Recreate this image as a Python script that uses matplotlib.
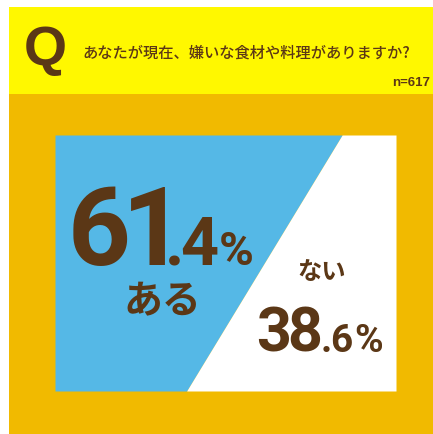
import matplotlib
matplotlib.use("Agg")
import matplotlib.pyplot as plt
from matplotlib.patches import Rectangle
from matplotlib.textpath import TextPath
from matplotlib.font_manager import FontProperties

# ---- data ----
categories = ["ある", "ない"]
values = [61.4, 38.6]
value_int = ["61", "38"]
value_dec = [".4", ".6"]
question = "あなたが現在、嫌いな食材や料理がありますか?"
sample = "n=617"

# ---- style ----
YELLOW = "#FFF800"
ORANGE = "#F1BA00"
BLUE = "#55B8E6"
WHITE = "#FFFFFF"
BROWN = "#5B3716"
JP = ["Noto Sans CJK JP", "DejaVu Sans"]
NUM = "Roboto"
DPI = 100

W, H = 433, 434
fig = plt.figure(figsize=(W / 100, H / 100), dpi=DPI)
bg = fig.add_axes([0, 0, 1, 1])
bg.set_xlim(0, W)
bg.set_ylim(H, 0)
bg.axis("off")

bg.add_patch(Rectangle((9, 7), W - 9, 87, color=YELLOW, lw=0))
bg.add_patch(Rectangle((9, 94), W - 9, H - 94, color=ORANGE, lw=0))

# ---- inner box: area split proportional to the values ----
x0, x1, y0, y1 = 55, 396, 135, 391
ax = fig.add_axes([x0 / W, 1 - y1 / H, (x1 - x0) / W, (y1 - y0) / H])
ax.set_xlim(0, 1)
ax.set_ylim(0, 1)
ax.axis("off")
frac = values[0] / sum(values)
slant = 0.456
ys = [0, 1]
xs = [frac - slant / 2, frac + slant / 2]
ax.fill_betweenx(ys, [0, 0], xs, color=BLUE, lw=0)
ax.fill_betweenx(ys, xs, [1, 1], color=WHITE, lw=0)

# ---- overlay for all texts ----
ov = fig.add_axes([0, 0, 1, 1])
ov.set_xlim(0, W)
ov.set_ylim(H, 0)
ov.axis("off")
ov.patch.set_alpha(0)

fp = FontProperties(family=NUM, weight="bold")


def place(pieces, x, y):
    """pieces: list of (string, fontsize, gap_before, gap_inner).
    Characters are packed by their ink boxes."""
    k = DPI / 72.0
    for s, size, gap, gin in pieces:
        for i, ch in enumerate(s):
            x += gap if i == 0 else gin
            e = TextPath((0, 0), ch, size=size, prop=fp).get_extents()
            ov.text(x - e.x0 * k, y, ch, fontsize=size, fontweight="bold",
                    family=NUM, color=BROWN, ha="left", va="baseline")
            x += e.width * k


ov.text(45, 51, "Q", fontsize=40, fontweight="bold", family="Liberation Sans",
        color=BROWN, ha="center", va="center")
ov.text(82, 53, question, fontsize=11, fontweight="medium", family=JP,
        color=BROWN, ha="left", va="center")
ov.text(392, 83, sample, fontsize=9.5, fontweight="bold",
        family="Liberation Sans", color=BROWN, ha="left", va="center")

place([(value_int[0], 79, 0, 4), (value_dec[0], 48, 4, 3), ("%", 34, 4, 0)],
      73, 265)
ov.text(162, 302, categories[0], fontsize=28, fontweight="bold", family=JP,
        color=BROWN, ha="center", va="center")

ov.text(322, 272, categories[1], fontsize=17.5, fontweight="bold", family=JP,
        color=BROWN, ha="center", va="center")
place([(value_int[1], 44, 0, 2), (value_dec[1], 28, 3, 3), ("%", 28, 5, 0)],
      258, 352)

fig.savefig("out.png", dpi=DPI)
